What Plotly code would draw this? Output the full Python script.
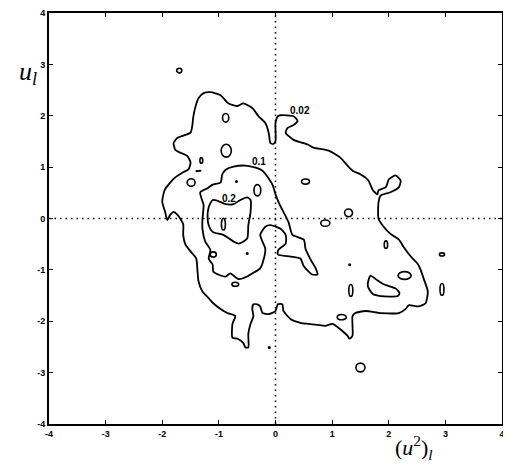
import plotly.graph_objects as go

# ---- contour level 0.02 (outer) ----
c002_x = [-1.27, -1.15, -0.97, -0.83, -0.67, -0.57, -0.41, -0.30, -0.18, -0.12, -0.09, -0.04, 0.00, 0.00, 0.04, 0.09,
          0.32, 0.39, 0.32, 0.21, 0.18, 0.32, 0.57, 0.67, 0.94, 1.15, 1.27, 1.36, 1.50, 1.64, 1.72, 1.80, 1.82,
          1.95, 2.00, 2.12, 2.21, 2.18, 2.03, 1.86, 1.82, 1.82, 1.91, 2.03, 2.18, 2.26, 2.39, 2.51, 2.56, 2.62,
          2.69, 2.65, 2.53, 2.35, 2.30, 2.18, 1.86, 1.59, 1.41, 1.36, 1.36, 1.31, 1.27, 1.18, 1.01, 0.88, 0.74,
          0.57, 0.44, 0.27, 0.14, 0.12, 0.04, 0.00, -0.12, -0.23, -0.27, -0.32, -0.39, -0.41, -0.39, -0.44, -0.48,
          -0.48, -0.53, -0.57, -0.67, -0.76, -0.76, -0.71, -0.85, -0.97, -1.10, -1.18, -1.29, -1.36, -1.38, -1.40,
          -1.50, -1.59, -1.63, -1.63, -1.73, -1.80, -1.86, -1.91, -1.95, -2.00, -1.98, -1.95, -1.86, -1.77, -1.63,
          -1.54, -1.50, -1.56, -1.68, -1.77, -1.80, -1.73, -1.64, -1.50, -1.47, -1.45, -1.41, -1.36, -1.27]
c002_y = [2.44, 2.46, 2.40, 2.24, 2.19, 2.24, 2.15, 1.99, 1.86, 1.67, 1.47, 1.45, 1.51, 1.86, 1.99, 2.01,
          1.99, 1.90, 1.82, 1.76, 1.67, 1.53, 1.44, 1.38, 1.32, 1.18, 1.03, 0.93, 0.86, 0.74, 0.55, 0.47, 0.55,
          0.61, 0.76, 0.84, 0.74, 0.61, 0.51, 0.45, 0.32, -0.01, -0.16, -0.30, -0.41, -0.55, -0.74, -0.88, -0.99,
          -1.18, -1.42, -1.65, -1.71, -1.69, -1.76, -1.84, -1.84, -1.80, -1.84, -1.90, -2.28, -2.34, -2.28, -2.19,
          -2.05, -2.09, -2.07, -2.05, -2.03, -1.96, -1.80, -1.67, -1.67, -1.80, -1.86, -1.84, -1.71, -1.67, -1.67,
          -1.76, -1.90, -2.05, -2.24, -2.51, -2.51, -2.42, -2.34, -2.32, -2.05, -1.90, -1.84, -1.76, -1.65, -1.55,
          -1.42, -1.22, -0.99, -0.78, -0.64, -0.51, -0.32, -0.11, 0.07, 0.13, 0.07, -0.03, 0.13, 0.32, 0.47, 0.57,
          0.70, 0.80, 0.90, 0.95, 1.09, 1.22, 1.28, 1.34, 1.47, 1.57, 1.61, 1.67, 1.80, 1.99, 2.19, 2.34, 2.44]

# ---- contour level 0.1 ----
c01_x = [-1.33, -1.20, -1.11, -0.97, -0.94, -0.88, -0.74, -0.53, -0.35, -0.23, -0.12, -0.05, 0.00, 0.07, 0.14,
         0.23, 0.30, 0.50, 0.53, 0.62, 0.71, 0.74, 0.65, 0.50, 0.44, 0.27, 0.04, 0.05, 0.18, 0.18, 0.09, -0.09,
         -0.18, -0.27, -0.23, -0.18, -0.21, -0.27, -0.41, -0.50, -0.65, -0.80, -0.88, -1.01, -1.10, -1.11, -1.18,
         -1.15, -1.24, -1.29, -1.29, -1.27, -1.33]
c01_y = [0.51, 0.59, 0.66, 0.70, 0.86, 0.95, 1.01, 1.03, 0.99, 0.93, 0.78, 0.65, 0.47, 0.28, 0.13,
         -0.07, -0.32, -0.41, -0.59, -0.80, -0.97, -1.09, -1.09, -0.93, -0.78, -0.74, -0.70, -0.61, -0.49, -0.32,
         -0.20, -0.13, -0.16, -0.32, -0.45, -0.59, -0.80, -0.97, -1.07, -1.13, -1.18, -1.07, -1.13, -1.09, -1.03,
         -0.90, -0.78, -0.61, -0.45, -0.20, -0.01, 0.26, 0.51]

# ---- contour level 0.2 ----
c02_x = [-1.20, -1.18, -1.11, -1.01, -0.88, -0.74, -0.62, -0.50, -0.44, -0.44, -0.48, -0.50, -0.65, -0.74,
         -0.92, -1.11, -1.18, -1.20]
c02_y = [0.03, 0.22, 0.36, 0.34, 0.28, 0.28, 0.36, 0.41, 0.36, 0.13, -0.13, -0.39, -0.49, -0.45,
         -0.32, -0.26, -0.13, 0.03]

# ---- small closed islands: centre and full width/height (data units) ----
loop_cx = [-1.70, -0.88, -0.87, -1.31, -1.49, -0.32, 0.53, 1.29, 0.88, 1.95, 2.94, 2.28, 1.33, 2.94, 1.17,
           1.50, -1.10, -0.71, -0.92]
loop_cy = [2.88, 1.96, 1.32, 1.13, 0.70, 0.55, 0.72, 0.11, -0.09, -0.51, -0.70, -1.11, -1.40, -1.38, -1.92,
           -2.90, -0.70, -1.28, -0.11]
loop_w = [0.09, 0.11, 0.18, 0.05, 0.14, 0.12, 0.14, 0.14, 0.16, 0.06, 0.09, 0.23, 0.07, 0.07, 0.16,
          0.16, 0.11, 0.12, 0.07]
loop_h = [0.09, 0.17, 0.25, 0.11, 0.15, 0.22, 0.10, 0.15, 0.12, 0.15, 0.06, 0.15, 0.23, 0.23, 0.10,
          0.17, 0.10, 0.08, 0.23]

# larger island at lower right
blob_x = [1.68, 1.77, 1.91, 2.12, 2.19, 2.16, 1.86, 1.72, 1.63, 1.65, 1.68]
blob_y = [-1.11, -1.18, -1.28, -1.36, -1.45, -1.51, -1.51, -1.47, -1.32, -1.17, -1.11]

# short dash segment
dash_x = [-1.41, -1.31]
dash_y = [0.92, 0.93]

# isolated dots
dot_x = [1.31, -0.50, -0.11, -0.69]
dot_y = [-0.90, -0.68, -2.51, 0.72]

# contour labels
lab_text = ["0.02", "0.1", "0.2"]
lab_x = [0.44, -0.30, -0.82]
lab_y = [2.11, 1.10, 0.39]

tick_vals = [-4, -3, -2, -1, 0, 1, 2, 3, 4]
tick_text = ["-4", "-3", "-2", "-1", "0", "1", "2", "3", "4"]

LINE = dict(color="black", width=1.8, shape="spline", smoothing=0.6)

fig = go.Figure()
for xs, ys in [(c002_x, c002_y), (c01_x, c01_y), (c02_x, c02_y), (blob_x, blob_y), (dash_x, dash_y)]:
    fig.add_trace(go.Scatter(x=xs, y=ys, mode="lines", line=LINE, hoverinfo="skip", showlegend=False))

fig.add_trace(go.Scatter(x=dot_x, y=dot_y, mode="markers", marker=dict(color="black", size=3),
                         hoverinfo="skip", showlegend=False))

shapes = []
for cx, cy, w, h in zip(loop_cx, loop_cy, loop_w, loop_h):
    shapes.append(dict(type="circle", xref="x", yref="y", x0=cx - w / 2, x1=cx + w / 2,
                       y0=cy - h / 2, y1=cy + h / 2, line=dict(color="black", width=1.6)))
# dotted reference lines through zero
shapes.append(dict(type="line", xref="x", yref="paper", x0=0, x1=0, y0=0, y1=1,
                   line=dict(color="black", width=1.5, dash="1.5px,4px")))
shapes.append(dict(type="line", xref="paper", yref="y", x0=0, x1=1, y0=0, y1=0,
                   line=dict(color="black", width=1.5, dash="1.5px,4px")))

annotations = []
for t, x, y in zip(lab_text, lab_x, lab_y):
    annotations.append(dict(x=x, y=y, text=t, showarrow=False, xref="x", yref="y",
                            font=dict(family="Liberation Sans", size=10, color="black", weight="bold")))
annotations.append(dict(x=-0.047, y=0.855, xref="paper", yref="paper", showarrow=False,
                        xanchor="center", yanchor="middle",
                        text="<i>u</i><sub><i>l</i></sub>",
                        font=dict(family="Liberation Serif", size=26, color="black")))
annotations.append(dict(x=0.805, y=-0.058, xref="paper", yref="paper", showarrow=False,
                        xanchor="center", yanchor="middle",
                        text="(<i>u</i><sup>2</sup>)<sub><i>l</i></sub>",
                        font=dict(family="Liberation Serif", size=22, color="black")))

axis_common = dict(range=[-4, 4], tickvals=tick_vals, ticktext=tick_text, ticks="inside", ticklen=4,
                   tickwidth=1.2, tickcolor="black", showline=True, linecolor="black", linewidth=2,
                   mirror="ticks", showgrid=False, zeroline=False, automargin=False,
                   ticklabeloverflow="allow",
                   tickfont=dict(family="Liberation Sans", size=9, color="black", weight="bold"))

# the page body adds an 8px offset, so the figure is sized to fit the window after it
fig.update_layout(
    width=503, height=460,
    margin=dict(l=41, r=9, t=5, b=44),
    paper_bgcolor="white", plot_bgcolor="white",
    xaxis=dict(**axis_common),
    yaxis=dict(**axis_common),
    shapes=shapes, annotations=annotations,
)
fig.write_html("out.html")
